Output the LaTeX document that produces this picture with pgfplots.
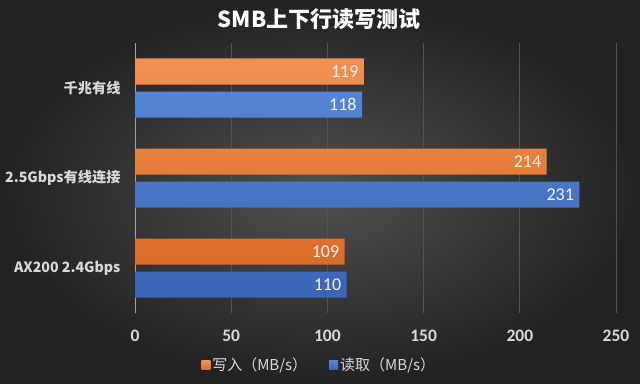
\documentclass[border=0pt]{standalone}
\usepackage{pgfplots}
\pgfplotsset{compat=1.18}
\usepackage{fontspec}
\setmainfont{Carlito}
\newfontfamily\cjk{Noto Sans CJK SC}
\definecolor{bgin}{RGB}{80,80,80}
\definecolor{bgout}{RGB}{34,34,34}
\definecolor{lab}{RGB}{217,217,217}
\definecolor{gridc}{RGB}{82,82,82}
\definecolor{oraT}{RGB}{242,145,84}
\definecolor{oraB}{RGB}{220,108,40}
\definecolor{bluT}{RGB}{86,133,214}
\definecolor{bluB}{RGB}{60,100,182}
\begin{document}
\begin{tikzpicture}[x=1bp,y=1bp]
\shade[inner color=bgin, outer color=bgout] (0,0) rectangle (640,383);
\node[text=white, font=\cjk\bfseries\fontsize{22bp}{26bp}\selectfont] at (319,364) {SMB上下行读写测试};
\begin{axis}[
  at={(135bp,70bp)}, anchor=south west,
  width=481bp, height=270bp, scale only axis,
  /pgf/number format/assume math mode=true,
  xbar, bar width=26bp,
  xmin=0, xmax=250, ymin=0.5, ymax=3.5,
  xtick={0,50,...,250},
  ytick={1,2,3},
  yticklabels={AX200 2.4Gbps, 2.5Gbps有线连接, 千兆有线},
  yticklabel style={font=\cjk\bfseries\fontsize{14.2bp}{17bp}\selectfont, text=lab, xshift=-11bp},
  xticklabel style={font=\bfseries\fontsize{17.5bp}{20bp}\selectfont, text=lab, yshift=-13bp},
  major tick length=0pt,
  xmajorgrids, grid style={gridc, line width=0.7bp},
  axis lines*=left,
  x axis line style={draw=none},
  y axis line style={draw=lab!75!black, line width=0.8bp},
  nodes near coords,
  nodes near coords style={anchor=east, text=white!95!black, font=\fontsize{18bp}{21bp}\selectfont, xshift=-2bp},
  legend style={at={(0.383,-0.193)}, anchor=center, legend columns=2, draw=none, fill=none, text=lab,
    font=\cjk\fontsize{15bp}{17bp}\selectfont,
    /tikz/every even column/.append style={column sep=20bp}},
  legend image code/.code={\fill[#1] (0bp,-4.5bp) rectangle (9bp,4.5bp);},
]
\addplot[bar shift=16.5bp, draw=none, top color=oraT, bottom color=oraB] coordinates {(109,1) (214,2) (119,3)};
\addplot[bar shift=-16.5bp, draw=none, top color=bluT, bottom color=bluB] coordinates {(110,1) (231,2) (118,3)};
\legend{写入（MB/s）, 读取（MB/s）}
\end{axis}
\end{tikzpicture}
\end{document}
